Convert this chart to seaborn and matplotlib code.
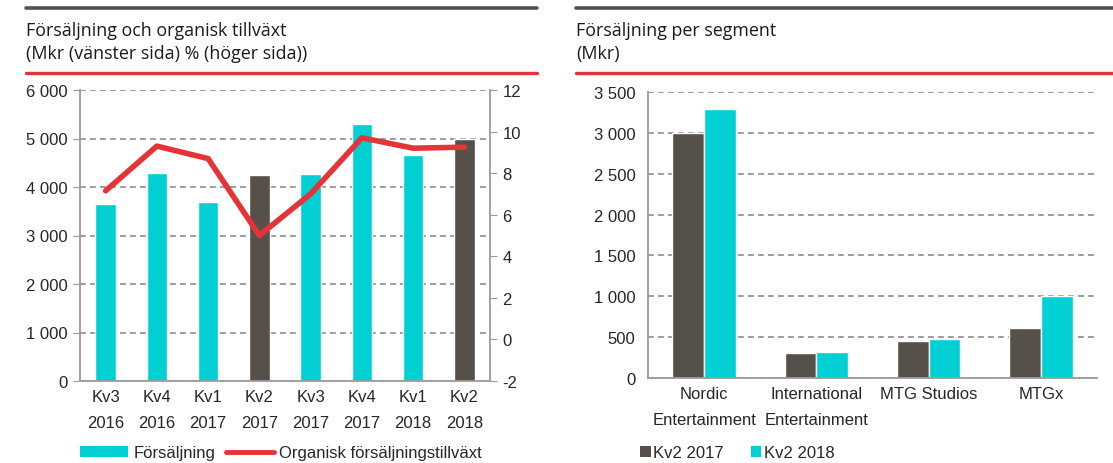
import matplotlib
matplotlib.use("Agg")
import matplotlib.pyplot as plt
import matplotlib.ticker as mticker
from matplotlib.lines import Line2D
from matplotlib.patches import Patch
import seaborn as sns
import pandas as pd
import numpy as np

# Data
quarters = ["Kv3\n2016", "Kv4\n2016", "Kv1\n2017", "Kv2\n2017",
            "Kv3\n2017", "Kv4\n2017", "Kv1\n2018", "Kv2\n2018"]
sales = [3650, 4290, 3700, 4250, 4270, 5300, 4670, 5000]
organic_growth = [7.15, 9.3, 8.7, 5.0, 7.0, 9.7, 9.2, 9.25]
highlight = [False, False, False, True, False, False, False, True]

segments = ["Nordic\nEntertainment", "International\nEntertainment", "MTG Studios", "MTGx"]
seg_2017 = [3000, 300, 455, 608]
seg_2018 = [3290, 314, 474, 1000]

TEAL = "#00CFD4"
DARK = "#55514A"
RED = "#E63338"
GRID = "#8C8C8C"
SPINE = "#9A9A9A"
FS = 12

sns.set_style("white")
plt.rcParams["font.family"] = ["Liberation Sans", "DejaVu Sans"]
plt.rcParams["axes.unicode_minus"] = False

fig = plt.figure(figsize=(11.13, 4.64), dpi=100)
W, H = 1113, 464


def px_axes(x0, y0, x1, y1):
    return fig.add_axes([x0 / W, 1 - y1 / H, (x1 - x0) / W, (y1 - y0) / H])


def space_fmt(v, pos):
    return f"{int(v):,}".replace(",", " ")


def style_axes(ax, labels):
    ax.grid(axis="y", color=GRID, linestyle=(0, (3.5, 2.5)), linewidth=1.2)
    ax.set_axisbelow(True)
    ax.spines["top"].set_visible(False)
    for side in ["left", "bottom", "right"]:
        ax.spines[side].set_color(SPINE)
        ax.spines[side].set_linewidth(1.3)
    ax.set_xticks(range(len(labels)))
    ax.set_xticklabels(labels)
    ax.set_xlim(-0.5, len(labels) - 0.5)
    ax.xaxis.set_minor_locator(mticker.FixedLocator(np.arange(-0.5, len(labels), 1)))
    ax.tick_params(axis="y", length=5, color=SPINE, labelsize=FS, pad=4, direction="out")
    ax.tick_params(axis="x", which="major", length=0, labelsize=FS, pad=6)
    ax.tick_params(axis="x", which="minor", length=5, color=SPINE, direction="out")
    ax.set_xlabel("")
    ax.set_ylabel("")


# ---- left chart: sales + organic growth
df_left = pd.DataFrame({"quarter": quarters, "sales": sales,
                        "growth": organic_growth, "hl": highlight})
bar_colors = [DARK if h else TEAL for h in highlight]

ax1 = px_axes(80, 91, 490, 382)
sns.barplot(data=df_left, x="quarter", y="sales", hue="quarter", palette=bar_colors,
            legend=False, width=0.4, saturation=1, ax=ax1)
ax1.set_ylim(0, 6000)
ax1.yaxis.set_major_locator(mticker.MultipleLocator(1000))
ax1.yaxis.set_major_formatter(mticker.FuncFormatter(space_fmt))
style_axes(ax1, quarters)
ax1.spines["right"].set_visible(False)

ax1b = ax1.twinx()
sns.lineplot(x=np.arange(len(quarters)), y=df_left["growth"], color=RED,
             linewidth=4, ax=ax1b, solid_capstyle="round")
ax1b.set_ylim(-2, 12)
ax1b.yaxis.set_major_locator(mticker.MultipleLocator(2))
ax1b.set_ylabel("")
for side in ["top", "left", "bottom"]:
    ax1b.spines[side].set_visible(False)
ax1b.spines["right"].set_color(SPINE)
ax1b.spines["right"].set_linewidth(1.3)
ax1b.tick_params(axis="y", length=5, color=SPINE, labelsize=FS, pad=4)
ax1b.grid(False)

# ---- right chart: sales per segment
df_right = pd.DataFrame({
    "segment": segments * 2,
    "value": seg_2017 + seg_2018,
    "period": ["Kv2 2017"] * len(segments) + ["Kv2 2018"] * len(segments),
})
ax2 = px_axes(648, 93, 1097, 379)
sns.barplot(data=df_right, x="segment", y="value", hue="period",
            palette=[DARK, TEAL], width=0.565, saturation=1, ax=ax2, legend=False)
ax2.set_ylim(0, 3500)
ax2.yaxis.set_major_locator(mticker.MultipleLocator(500))
ax2.yaxis.set_major_formatter(mticker.FuncFormatter(space_fmt))
style_axes(ax2, segments)
ax2.spines["right"].set_visible(False)

# ---- headers: dark rule, title, red rule
title_font = ["Open Sans", "DejaVu Sans"]
for x0, x1, lines in [(26, 537, ["Försäljning och organisk tillväxt",
                                  "(Mkr (vänster sida) % (höger sida))"]),
                      (576, 1113, ["Försäljning per segment", "(Mkr)"])]:
    fig.add_artist(Line2D([x0 / W, x1 / W], [1 - 9 / H, 1 - 9 / H],
                          color=DARK, linewidth=2.6, transform=fig.transFigure))
    fig.add_artist(Line2D([x0 / W, x1 / W], [1 - 74 / H, 1 - 74 / H],
                          color=RED, linewidth=2.4, transform=fig.transFigure))
    fig.text(x0 / W, 1 - 31 / H, lines[0], fontsize=12.9, family=title_font,
             va="center", ha="left", color="#1A1A1A")
    fig.text(x0 / W, 1 - 54 / H, lines[1], fontsize=12.9, family=title_font,
             va="center", ha="left", color="#1A1A1A")

# ---- legends
fig.legend(handles=[Patch(facecolor=TEAL, edgecolor="none", label="Försäljning"),
                    Line2D([], [], color=RED, linewidth=3.5, label="Organisk försäljningstillväxt")],
           loc="center left", bbox_to_anchor=(80 / W, 1 - 454 / H), ncol=2,
           frameon=False, fontsize=FS, handlelength=2.9, handleheight=0.6,
           handletextpad=0.3, columnspacing=0.65, borderpad=0, borderaxespad=0)

fig.legend(handles=[Patch(facecolor=DARK, edgecolor="none", label="Kv2 2017"),
                    Patch(facecolor=TEAL, edgecolor="none", label="Kv2 2018")],
           loc="center left", bbox_to_anchor=(640 / W, 1 - 454 / H), ncol=2,
           frameon=False, fontsize=FS, handlelength=0.65, handleheight=0.65,
           handletextpad=0.15, columnspacing=1.6, borderpad=0, borderaxespad=0)

# wider line spacing on the two-line category labels (ticks exist after a draw)
fig.canvas.draw()
for ax in (ax1, ax2):
    for lab in ax.get_xticklabels():
        lab.set_linespacing(1.9)

fig.savefig("out.png", dpi=100)
